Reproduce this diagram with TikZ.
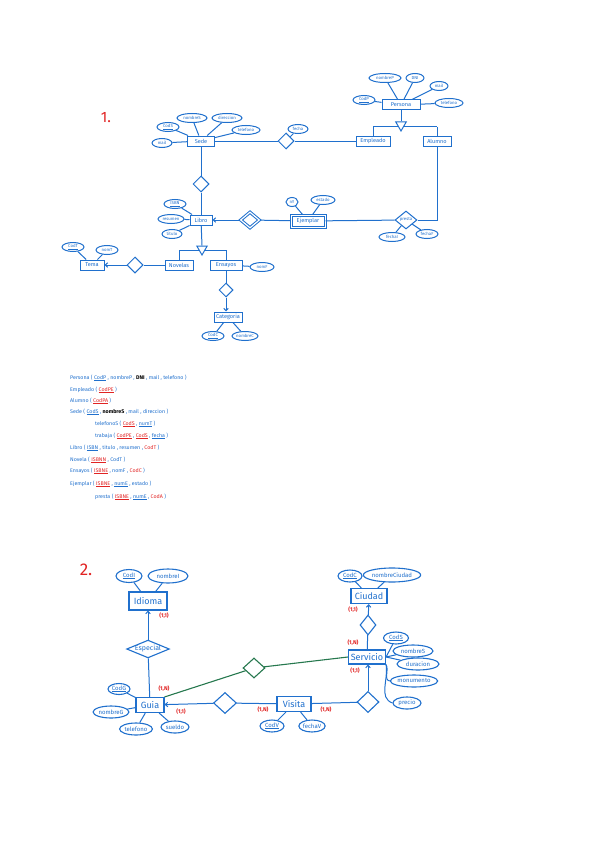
\documentclass[tikz,border=0pt]{standalone}
\usepackage{fontspec}
\setmainfont{Fira Sans}
\usetikzlibrary{shapes.geometric,arrows.meta}
\definecolor{pen}{RGB}{32,112,205}
\definecolor{grn}{RGB}{38,120,78}
\definecolor{rd}{RGB}{225,35,35}
\newcommand\pkey[1]{\underline{#1}}
\newcommand\fkey[1]{\textcolor{rd}{\underline{#1}}}
\newcommand\rkey[1]{\textcolor{rd}{#1}}
\begin{document}
\begin{tikzpicture}[x=1pt,y=-1pt,
  ln/.style={draw=pen,line width=1pt},
  gln/.style={draw=grn,line width=1.1pt},
  ent/.style={draw=pen,line width=1pt,fill=white,text=pen,inner sep=1pt,minimum height=10,font=\fontsize{5.6}{6.5}\selectfont},
  att/.style={ellipse,draw=pen,line width=1pt,fill=white,text=pen,inner sep=0.2pt,minimum height=9,font=\fontsize{4.3}{5}\selectfont},
  rel/.style={diamond,draw=pen,line width=1pt,fill=white,inner sep=0pt,minimum width=16,minimum height=16},
  isa/.style={regular polygon,regular polygon sides=3,shape border rotate=180,draw=pen,fill=white,line width=1pt,minimum size=12,inner sep=0pt},
  ent2/.style={draw=pen,line width=1.1pt,fill=white,text=pen,inner sep=1.5pt,minimum height=15,font=\fontsize{9}{10}\selectfont},
  att2/.style={ellipse,draw=pen,line width=1.1pt,fill=white,text=pen,inner sep=0.2pt,minimum height=12,font=\fontsize{6}{7}\selectfont},
  rel2/.style={diamond,draw=pen,line width=1.1pt,fill=white,inner sep=0pt,minimum width=22,minimum height=21},
  card/.style={text=rd,inner sep=0pt,font=\bfseries\fontsize{5.5}{6}\selectfont},
  sch/.style={anchor=west,text=pen,inner sep=0pt,font=\fontsize{5.3}{6}\selectfont},
  arr/.style={-{Straight Barb[length=2.5pt,width=4.5pt]}},
]
\useasboundingbox (0,0) rectangle (599,848);

%% ---------------- Part 1 ----------------
\node[text=rd,font=\fontsize{15}{15}\selectfont] (n1) at (106,118) {1.};

% Persona hierarchy
\coordinate (h1l) at (373,127);
\coordinate (h1r) at (437,127);
\draw[ln] (h1l) -- (h1r);
\node[ent,minimum width=38] (persona) at (401,105) {Persona};
\node[isa] (isa1) at (401,125) {};
\node[att,minimum width=32] (nombreP) at (385,78) {nombreP};
\node[att,minimum width=18] (dni) at (415,78) {DNI};
\node[att,minimum width=18] (mailP) at (439,86) {mail};
\node[att,minimum width=28] (telP) at (449,103) {telefono};
\node[att,minimum width=22] (codP) at (364,100) {\pkey{CodP}};
\node[ent,minimum width=34] (empleado) at (373,141) {Empleado};
\node[ent,minimum width=28] (alumno) at (437,141) {Alumno};
\draw[ln] (persona) -- (isa1.north);
\draw[ln] (h1l) -- (empleado);
\draw[ln] (h1r) -- (alumno);
\foreach \a in {nombreP,dni,mailP,telP,codP} \draw[ln] (persona) -- (\a);

% Sede
\node[ent,minimum width=27] (sede) at (201,141) {Sede};
\node[att,minimum width=30] (nomS) at (192,118) {nombreS};
\node[att,minimum width=30] (dirS) at (227,118) {direccion};
\node[att,minimum width=28] (telS) at (246,130) {telefono};
\node[att,minimum width=22] (codS) at (168,127) {\pkey{CodS}};
\node[att,minimum width=20] (mailS) at (162,143) {mail};
\foreach \a in {nomS,dirS,codS,telS,mailS} \draw[ln] (sede) -- (\a);
\node[rel] (trabaja) at (286,141) {};
\node[att,minimum width=20] (fecha) at (298,129) {fecha};
\draw[ln] (sede) -- (trabaja);
\draw[ln] (trabaja) -- (empleado);
\draw[ln] (trabaja.north east) -- (fecha);

% Sede - Libro
\node[rel] (d2) at (201,184) {};
\node[ent,minimum width=22] (libro) at (201,220) {Libro};
\draw[ln] (sede) -- (d2);
\draw[ln] (d2) -- (libro);
\node[att,minimum width=22] (isbn) at (175,204) {\pkey{ISBN}};
\node[att,minimum width=26] (resumen) at (171,219) {resumen};
\node[att,minimum width=20] (titulo) at (172,234) {titulo};
\foreach \a in {isbn,resumen,titulo} \draw[ln] (libro) -- (\a);

% Libro - Ejemplar
\node[rel,double,double distance=1.2pt,minimum width=19,minimum height=16] (dd) at (250,220) {};
\node[ent,double,double distance=1pt,minimum width=34,minimum height=12] (ejemplar) at (308,221) {Ejemplar};
\draw[ln,arr] (dd) -- (libro);
\draw[ln] (dd) -- (ejemplar);
\node[att,minimum width=12] (num) at (292,202) {nº};
\node[att,minimum width=24] (estado) at (323,200) {estado};
\draw[ln] (ejemplar) -- (num);
\draw[ln] (ejemplar) -- (estado);

% presta
\node[rel,minimum width=22,minimum height=18,font=\fontsize{4.3}{5}\selectfont,text=pen] (presta) at (406,220) {presta};
\coordinate (corner) at (437,220);
\draw[ln] (ejemplar) -- (presta);
\draw[ln] (presta) -- (corner) -- (alumno);
\node[att,minimum width=26] (fechaI) at (392,237) {fechaI};
\node[att,minimum width=22] (fechaF) at (427,234) {fechaF};
\draw[ln] (presta) -- (fechaI);
\draw[ln] (presta) -- (fechaF);

% Libro hierarchy
\coordinate (h2l) at (179,250);
\coordinate (h2r) at (226,250);
\draw[ln] (h2l) -- (h2r);
\node[isa] (isa2) at (202,249) {};
\draw[ln] (libro) -- (isa2.north);
\node[ent,minimum width=28] (novelas) at (179,265) {Novelas};
\node[ent,minimum width=32] (ensayos) at (226,265) {Ensayos};
\draw[ln] (h2l) -- (novelas);
\draw[ln] (h2r) -- (ensayos);
\node[att,minimum width=24] (nomF) at (262,267) {nomF};
\draw[ln] (ensayos) -- (nomF);

% Tema
\node[ent,minimum width=24] (tema) at (92,265) {Tema};
\node[att,minimum width=22] (codT) at (73,247) {\pkey{CodT}};
\node[att,minimum width=22] (nomT) at (107,250) {nomT};
\draw[ln] (tema) -- (codT);
\draw[ln] (tema) -- (nomT);
\node[rel] (dt) at (135,265) {};
\draw[ln,arr] (dt) -- (tema);
\draw[ln] (dt) -- (novelas);

% Categoria
\node[rel,minimum width=14,minimum height=14] (dc) at (226,290) {};
\node[ent,minimum width=28] (categoria) at (228,317) {Categoria};
\draw[ln] (ensayos) -- (dc);
\draw[ln,arr] (dc) -- (categoria.north -| dc);
\node[att,minimum width=22] (codC) at (213,336) {\pkey{CodC}};
\node[att,minimum width=26] (nombreC) at (245,336) {nombreC};
\draw[ln] (categoria) -- (codC);
\draw[ln] (categoria) -- (nombreC);

%% ---------------- Relational schema ----------------
\node[sch] (r1) at (70,378) {Persona ( \pkey{CodP} , nombreP , \textcolor{black}{\textbf{DNI}} , mail , telefono )};
\node[sch] (r2) at (70,390) {Empleado ( \fkey{CodPE} )};
\node[sch] (r3) at (70,401) {Alumno ( \fkey{CodPA} )};
\node[sch] (r4) at (70,412) {Sede ( \pkey{CodS} , \textcolor{black}{\textbf{nombreS}} , mail , direccion )};
\node[sch] (r5) at (95,424) {telefonoS ( \fkey{CodS} , \pkey{numT} )};
\node[sch] (r6) at (95,436) {trabaja ( \fkey{CodPE} , \fkey{CodS} , \pkey{fecha} )};
\node[sch] (r7) at (70,448) {Libro ( \pkey{ISBN} , titulo , resumen , \rkey{CodT} )};
\node[sch] (r8) at (70,460) {Novela ( \fkey{ISBNN} , CodT )};
\node[sch] (r9) at (70,471) {Ensayos ( \fkey{ISBNE} , nomF , \rkey{CodC} )};
\node[sch] (r10) at (70,484) {Ejemplar ( \fkey{ISBNE} , \pkey{numE} , estado )};
\node[sch] (r11) at (95,497) {presta ( \fkey{ISBNE} , \pkey{numE} , \rkey{CodA} )};

%% ---------------- Part 2 ----------------
\node[text=rd,font=\fontsize{17}{17}\selectfont] (n2) at (86,570) {2.};

% Idioma
\node[ent2,minimum width=38,minimum height=18] (idioma) at (148,601) {Idioma};
\node[att2,minimum width=26,minimum height=13] (codI) at (129,576) {\pkey{CodI}};
\node[att2,minimum width=40,minimum height=14] (nombreI) at (168,576) {nombreI};
\draw[ln] (idioma) -- (codI);
\draw[ln] (idioma) -- (nombreI);
\node[card] (c1) at (164,616) {(1,1)};

% Especial
\node[diamond,draw=pen,line width=1.1pt,fill=white,text=pen,inner sep=0pt,aspect=2.4,font=\fontsize{7}{7}\selectfont] (especial) at (148,649) {Especial};
\draw[ln,arr] (especial) -- (idioma);

% Guia
\node[ent2,minimum width=28] (guia) at (150,705) {Guia};
\draw[ln] (especial) -- (guia);
\node[att2,minimum width=22,minimum height=11] (codG) at (119,689) {\pkey{CodG}};
\node[att2,minimum width=32] (nombreG) at (111,712) {nombreG};
\node[att2,minimum width=30] (telG) at (136,729) {telefono};
\node[att2,minimum width=28] (sueldo) at (175,727) {sueldo};
\foreach \a in {codG,nombreG,telG,sueldo} \draw[ln] (guia) -- (\a);
\node[card] (c2) at (164,689) {(1,N)};
\node[card] (c3) at (181,712) {(1,1)};

% Ciudad
\node[ent2,minimum width=36,minimum height=15] (ciudad) at (369,596) {Ciudad};
\node[att2,minimum width=24,minimum height=12] (codC2) at (350,576) {\pkey{CodC}};
\node[att2,minimum width=44,minimum height=14] (nomCiu) at (392,575) {nombreCiudad};
\draw[ln] (ciudad) -- (codC2);
\draw[ln] (ciudad) -- (nomCiu);
\node[card] (c4) at (353,610) {(1,1)};

% Servicio
\node[ent2,minimum width=37,minimum height=14] (servicio) at (367,657) {Servicio};
\node[rel2,minimum width=16,minimum height=20] (dciu) at (368,625) {};
\draw[ln] (servicio) -- (dciu);
\draw[ln,arr] (dciu) -- (ciudad);
\node[card] (c5) at (353,643) {(1,N)};
\node[card] (c6) at (355,671) {(1,1)};
\node[att2,minimum width=25,minimum height=12] (codS2) at (396,638) {\pkey{CodS}};
\node[att2,minimum width=40] (nombreS2) at (413,651) {nombreS};
\node[att2,minimum width=42] (duracion) at (418,664) {duracion};
\node[att2,minimum width=42] (monumento) at (414,681) {monumento};
\node[att2,minimum width=28] (precio) at (407,703) {precio};
\draw[ln] (servicio.east) -- (codS2);
\draw[ln] (servicio.east) -- (nombreS2);
\draw[ln] (servicio.east) -- (duracion);
\draw[ln] (servicio.south east) to[out=-60,in=170] (monumento.west);
\draw[ln] (servicio.south east) to[out=-80,in=160] (precio.west);

% Visita
\node[ent2,minimum width=34] (visita) at (294,704) {Visita};
\node[att2,minimum width=24] (codV) at (272,726) {\pkey{CodV}};
\node[att2,minimum width=26] (fechaV) at (312,726) {fechaV};
\draw[ln] (visita) -- (codV);
\draw[ln] (visita) -- (fechaV);
\node[rel2,minimum width=23] (dvis) at (225,703) {};
\draw[ln,arr] (dvis) -- (guia);
\draw[ln] (dvis) -- (visita);
\node[card] (c7) at (263,710) {(1,N)};
\node[card] (c8) at (326,710) {(1,N)};
\node[rel2] (dserv) at (368,702) {};
\draw[ln] (visita) -- (dserv);
\draw[ln,arr] (dserv) -- (servicio.south -| dserv);

% green relationship
\node[diamond,draw=grn,line width=1.1pt,fill=white,inner sep=0pt,minimum width=22,minimum height=20] (dgreen) at (254,668) {};
\draw[gln] (guia.north east) -- (dgreen);
\draw[gln] (dgreen) -- (servicio.west);
\end{tikzpicture}
\end{document}
